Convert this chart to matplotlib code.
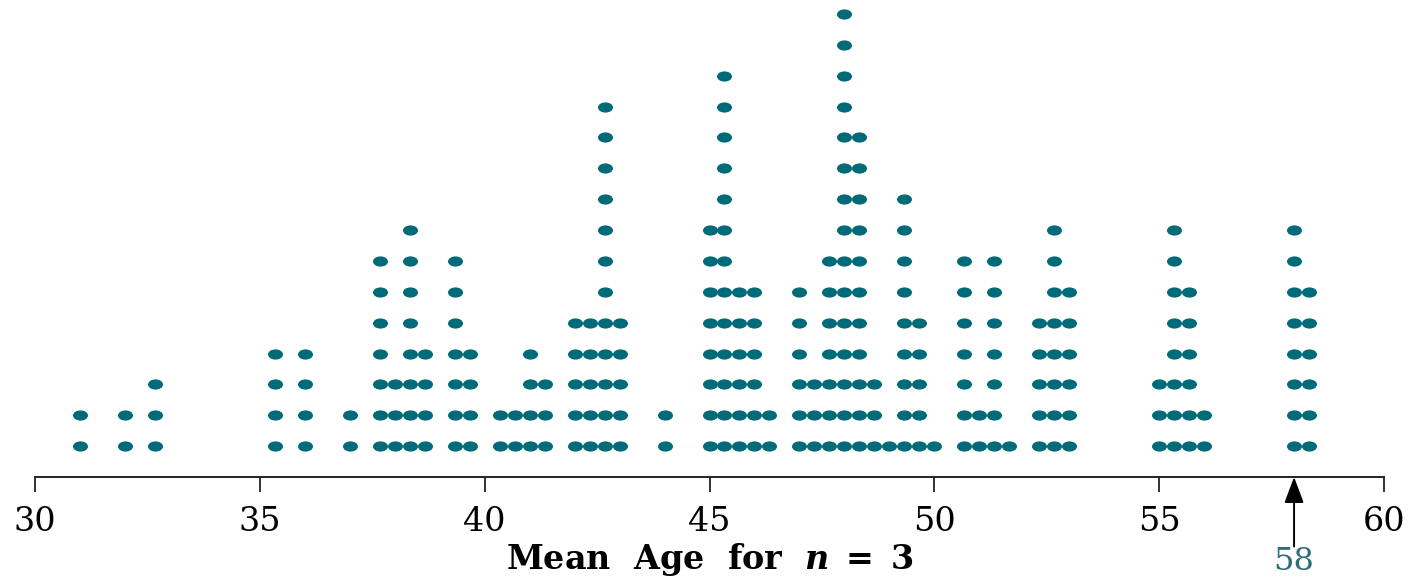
import matplotlib
matplotlib.use('Agg')
import matplotlib.pyplot as plt
import numpy as np
from matplotlib.path import Path
from matplotlib.transforms import Affine2D

# mean ages (steps of 1/3) and number of samples stacked at each value
means = [31.0, 32.0, 32 + 2/3, 35 + 1/3, 36.0, 37.0, 37 + 2/3, 38.0, 38 + 1/3, 38 + 2/3,
         39 + 1/3, 39 + 2/3, 40 + 1/3, 40 + 2/3, 41.0, 41 + 1/3, 42.0, 42 + 1/3, 42 + 2/3, 43.0,
         44.0, 45.0, 45 + 1/3, 45 + 2/3, 46.0, 46 + 1/3, 47.0, 47 + 1/3, 47 + 2/3, 48.0,
         48 + 1/3, 48 + 2/3, 49.0, 49 + 1/3, 49 + 2/3, 50.0, 50 + 2/3, 51.0, 51 + 1/3, 51 + 2/3,
         52 + 1/3, 52 + 2/3, 53.0, 55.0, 55 + 1/3, 55 + 2/3, 56.0, 58.0, 58 + 1/3]
counts = [2, 2, 3, 4, 4, 2, 7, 3, 8, 4,
          7, 4, 2, 2, 4, 3, 5, 5, 12, 5,
          2, 8, 13, 6, 6, 2, 6, 3, 7, 15,
          11, 3, 1, 9, 5, 1, 7, 2, 7, 1,
          5, 8, 6, 3, 8, 6, 2, 8, 6]
ticks = [30, 35, 40, 45, 50, 55, 60]
marked = 58

plt.rcParams['font.family'] = 'DejaVu Serif'
plt.rcParams['mathtext.fontset'] = 'custom'
plt.rcParams['mathtext.it'] = 'DejaVu Serif:italic:bold'
plt.rcParams['mathtext.rm'] = 'DejaVu Serif:bold'

teal = '#006b78'

# expand counts into stacked dots
xs, ys = [], []
for m, c in zip(means, counts):
    for k in range(c):
        xs.append(m)
        ys.append(k + 1)

# slightly flattened dot
ell = Path.unit_circle().transformed(Affine2D().scale(1.0, 0.68))

fig = plt.figure(figsize=(14.16, 5.85), dpi=100)
ax = fig.add_axes([35/1416, 108/585, 1349/1416, 477/585])
ax.plot(xs, ys, linestyle='none', marker=ell, markersize=10.8, color=teal, markeredgewidth=0)

ax.set_xlim(30, 60)
ax.set_ylim(0, 15.45)
ax.set_xticks(ticks)
ax.set_yticks([])
for s in ['left', 'top', 'right']:
    ax.spines[s].set_visible(False)
ax.spines['bottom'].set_linewidth(1.4)
ax.spines['bottom'].set_color('#222222')
ax.tick_params(axis='x', direction='out', length=11, width=1.3, color='#222222',
               labelsize=24, pad=10)
ax.set_xlabel(r'Mean  Age  for  $n\;=\;3$', fontsize=24, fontweight='bold', labelpad=2)

# arrow pointing at the observed mean
ax.annotate('', xy=(marked, 0), xycoords=('data', 'axes fraction'),
            xytext=(0, -50), textcoords='offset points',
            arrowprops=dict(arrowstyle='-|>,head_length=0.8,head_width=0.3',
                            mutation_scale=20, lw=1.4, color='black', shrinkA=0, shrinkB=0))
ax.annotate(str(marked), xy=(marked, 0), xycoords=('data', 'axes fraction'),
            xytext=(0, -61), textcoords='offset points', ha='center', va='center',
            fontsize=23, color='#2f6e76')

fig.savefig('out.png', dpi=100)
